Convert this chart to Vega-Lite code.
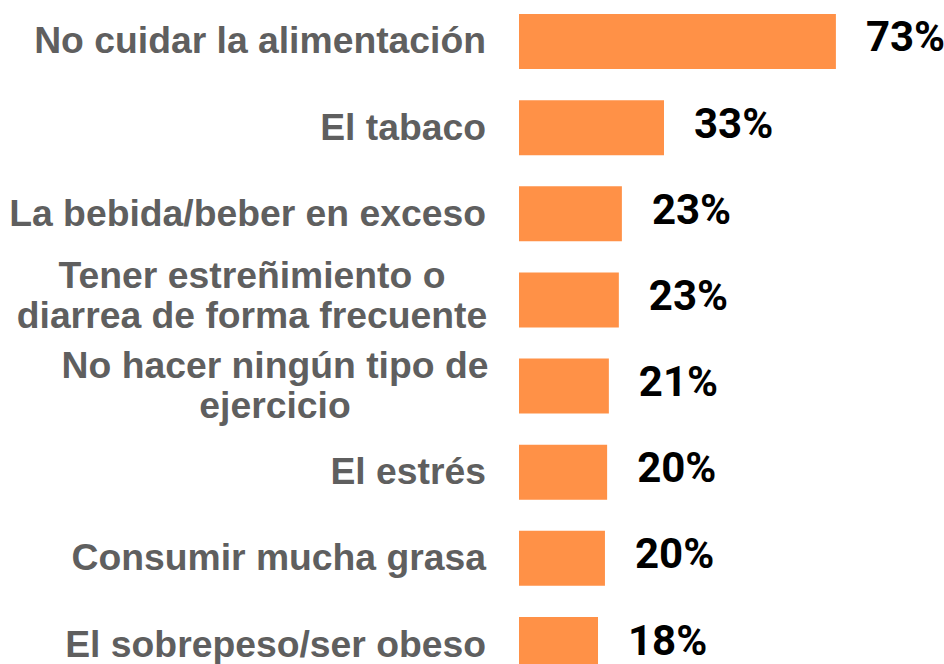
{
  "$schema": "https://vega.github.io/schema/vega-lite/v6.json",
  "width": 425,
  "height": 686,
  "padding": {"left": 519, "top": 0, "right": 0, "bottom": 0},
  "autosize": {"type": "none"},
  "background": "white",
  "config": {"view": {"stroke": null}},
  "data": {
    "values": [
      {"cat": "No cuidar la alimentación", "lines": ["No cuidar la alimentación"], "value": 73.0, "pct": "73%"},
      {"cat": "El tabaco", "lines": ["El tabaco"], "value": 33.4, "pct": "33%"},
      {"cat": "La bebida/beber en exceso", "lines": ["La bebida/beber en exceso"], "value": 23.7, "pct": "23%"},
      {"cat": "Tener estreñimiento o diarrea de forma frecuente", "lines": ["Tener estreñimiento o", "diarrea de forma frecuente"], "value": 23.0, "pct": "23%"},
      {"cat": "No hacer ningún tipo de ejercicio", "lines": ["No hacer ningún tipo de", "ejercicio"], "value": 20.7, "pct": "21%"},
      {"cat": "El estrés", "lines": ["El estrés"], "value": 20.3, "pct": "20%"},
      {"cat": "Consumir mucha grasa", "lines": ["Consumir mucha grasa"], "value": 19.8, "pct": "20%"},
      {"cat": "El sobrepeso/ser obeso", "lines": ["El sobrepeso/ser obeso"], "value": 18.2, "pct": "18%"}
    ]
  },
  "encoding": {
    "y": {"field": "cat", "type": "nominal", "sort": null, "axis": null, "scale": {"paddingInner": 0.3615, "paddingOuter": 0.1625}}
  },
  "layer": [
    {
      "mark": {"type": "bar", "color": "#FF9147"},
      "encoding": {"x": {"field": "value", "type": "quantitative", "axis": null, "scale": {"domain": [0, 97.9], "nice": false, "zero": true}}}
    },
    {
      "mark": {"type": "text", "align": "left", "baseline": "middle", "dx": 30, "dy": -3, "font": "Roboto", "fontWeight": "bold", "fontSize": 42, "color": "#000000"},
      "encoding": {"x": {"field": "value", "type": "quantitative"}, "text": {"field": "pct"}}
    },
    {
      "transform": [{"filter": "length(datum.lines) == 1"}],
      "mark": {"type": "text", "align": "right", "baseline": "middle", "dx": -33, "dy": 1, "font": "Liberation Sans", "fontWeight": "bold", "fontSize": 37.3, "color": "#5F5F5F"},
      "encoding": {"x": {"datum": 0, "type": "quantitative"}, "text": {"field": "lines"}}
    },
    {
      "transform": [{"filter": "datum.cat == 'Tener estreñimiento o diarrea de forma frecuente'"}],
      "mark": {"type": "text", "align": "center", "baseline": "middle", "dx": -267, "dy": -23, "lineHeight": 40, "font": "Liberation Sans", "fontWeight": "bold", "fontSize": 37.3, "color": "#5F5F5F"},
      "encoding": {"x": {"datum": 0, "type": "quantitative"}, "text": {"field": "lines"}}
    },
    {
      "transform": [{"filter": "datum.cat == 'No hacer ningún tipo de ejercicio'"}],
      "mark": {"type": "text", "align": "center", "baseline": "middle", "dx": -244, "dy": -19, "lineHeight": 40, "font": "Liberation Sans", "fontWeight": "bold", "fontSize": 37.3, "color": "#5F5F5F"},
      "encoding": {"x": {"datum": 0, "type": "quantitative"}, "text": {"field": "lines"}}
    }
  ]
}
